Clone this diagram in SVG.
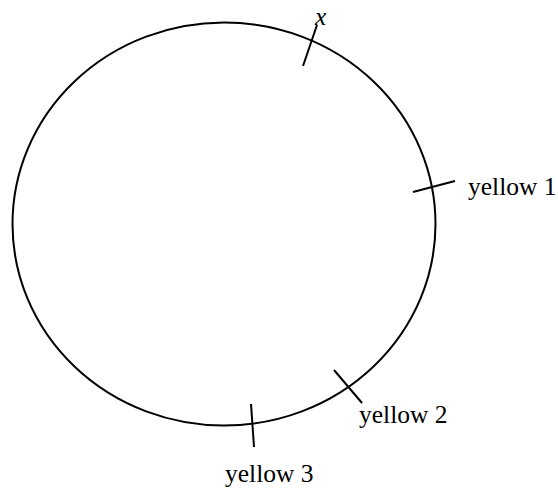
<svg xmlns="http://www.w3.org/2000/svg" width="558" height="488" viewBox="0 0 558 488">
<style>
.ln{fill:none;stroke:#000;stroke-width:2}
.t{font-family:"Liberation Serif","Times New Roman",serif;font-size:25.5px;fill:#000}
</style>
<rect width="558" height="488" fill="#fff"/>
<g id="circle"><ellipse class="ln" cx="224" cy="224" rx="211.5" ry="201.5"/></g>
<g id="connectors">
<line class="ln" x1="303" y1="66" x2="317" y2="25"/>
<line class="ln" x1="413" y1="192" x2="455" y2="181"/>
<line class="ln" x1="334" y1="370" x2="362" y2="403"/>
<line class="ln" x1="251" y1="404" x2="254" y2="447"/>
</g>
<g id="label-x"><text class="t" x="315" y="25" font-style="italic" font-size="29px">x</text></g>
<g id="label-yellow1"><text class="t" x="468" y="195">yellow 1</text></g>
<g id="label-yellow2"><text class="t" x="359" y="423">yellow 2</text></g>
<g id="label-yellow3"><text class="t" x="225" y="482">yellow 3</text></g>
</svg>
